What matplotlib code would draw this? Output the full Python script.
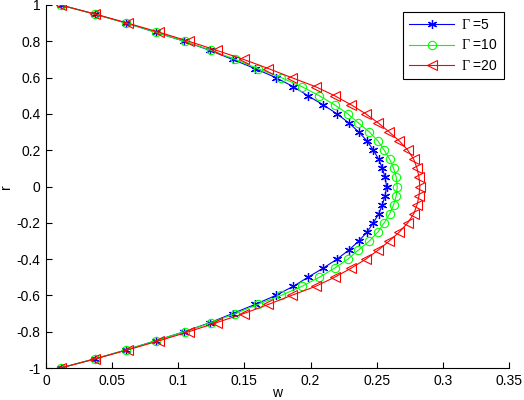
"""
plot.py - velocity profiles w(r) for three values of Gamma.
"""
import matplotlib
matplotlib.use("Agg")
import matplotlib.pyplot as plt
import numpy as np

# radial positions, r = -1 ... 1 in steps of 0.05
r = np.round(np.arange(-1.0, 1.0001, 0.05), 2)

# w, from r = -1 to r = 1
w_g5 = [0.011, 0.0367, 0.0608, 0.0828, 0.1046, 0.124, 0.141, 0.158, 0.1737, 0.187,
        0.198, 0.2095, 0.220, 0.229, 0.2365, 0.2428, 0.2475, 0.2515, 0.2543, 0.2563,
        0.2575,
        0.2563, 0.2543, 0.2515, 0.2475, 0.2428, 0.2365, 0.229, 0.220, 0.2095, 0.198,
        0.187, 0.1737, 0.158, 0.141, 0.124, 0.1046, 0.0828, 0.0608, 0.0367, 0.011]
w_g10 = [0.011, 0.0367, 0.0608, 0.083, 0.1048, 0.1248, 0.1432, 0.160, 0.1777, 0.1935,
         0.2066, 0.2181, 0.2282, 0.2362, 0.2445, 0.251, 0.2556, 0.2598, 0.2628, 0.2648,
         0.2655,
         0.2648, 0.2628, 0.2598, 0.2556, 0.251, 0.2445, 0.2362, 0.2282, 0.2181, 0.2066,
         0.1935, 0.1777, 0.160, 0.1432, 0.1248, 0.1048, 0.083, 0.0608, 0.0367, 0.011]
w_g20 = [0.011, 0.0372, 0.0618, 0.0855, 0.108, 0.129, 0.1495, 0.168, 0.1856, 0.2038,
         0.2182, 0.2307, 0.2418, 0.2512, 0.2595, 0.2672, 0.2735, 0.278, 0.2805, 0.282,
         0.2826,
         0.282, 0.2805, 0.278, 0.2735, 0.2672, 0.2595, 0.2512, 0.2418, 0.2307, 0.2182,
         0.2038, 0.1856, 0.168, 0.1495, 0.129, 0.108, 0.0855, 0.0618, 0.0372, 0.011]

labels = [r"$\Gamma$ =5", r"$\Gamma$ =10", r"$\Gamma$ =20"]
x_ticks = [0, 0.05, 0.1, 0.15, 0.2, 0.25, 0.3, 0.35]
x_tick_labels = ["0", "0.05", "0.1", "0.15", "0.2", "0.25", "0.3", "0.35"]
y_ticks = [-1, -0.8, -0.6, -0.4, -0.2, 0, 0.2, 0.4, 0.6, 0.8, 1]
y_tick_labels = ["-1", "-0.8", "-0.6", "-0.4", "-0.2", "0", "0.2", "0.4", "0.6", "0.8", "1"]

plt.rcParams["font.family"] = ["Liberation Sans", "DejaVu Sans"]
plt.rcParams["mathtext.fontset"] = "custom"
plt.rcParams["mathtext.rm"] = "Liberation Serif"
plt.rcParams["mathtext.it"] = "Liberation Serif"

fig = plt.figure(figsize=(5.24, 4.0), dpi=100)
ax = fig.add_axes([46 / 524, 1 - 368 / 400, 463 / 524, 363 / 400])

ax.plot(w_g5, r, color="#0000ff", lw=0.8, marker=(6, 2, 0), ms=6.5, mew=0.9,
        label=labels[0])
ax.plot(w_g10, r, color="#00ff00", lw=0.8, marker="o", ms=6, mew=0.8,
        mfc="none", label=labels[1])
ax.plot(w_g20, r, color="#ff0000", lw=0.8, marker="<", ms=6.5, mew=0.8,
        mfc="none", label=labels[2])

ax.set_xlim(0, 0.35)
ax.set_ylim(-1, 1)
ax.set_xticks(x_ticks)
ax.set_xticklabels(x_tick_labels)
ax.set_yticks(y_ticks)
ax.set_yticklabels(y_tick_labels)
ax.tick_params(direction="in", length=4, width=0.8, labelsize=10, pad=4)
ax.spines["top"].set_visible(False)
ax.spines["right"].set_visible(False)

ax.set_xlabel("w", fontsize=10, va="baseline")
ax.xaxis.set_label_coords(0.5, -0.081)
ax.set_ylabel("r", fontsize=10, rotation=90, va="center")
ax.yaxis.set_label_coords(-0.086, 0.5)

leg = ax.legend(loc="upper right", bbox_to_anchor=(0.989, 0.981),
                borderaxespad=0, fontsize=10, fancybox=False, framealpha=1,
                edgecolor="black", handlelength=3.2, borderpad=0.45,
                labelspacing=0.45, handletextpad=0.5)
leg.get_frame().set_linewidth(0.8)

fig.savefig("out.png", dpi=100)
